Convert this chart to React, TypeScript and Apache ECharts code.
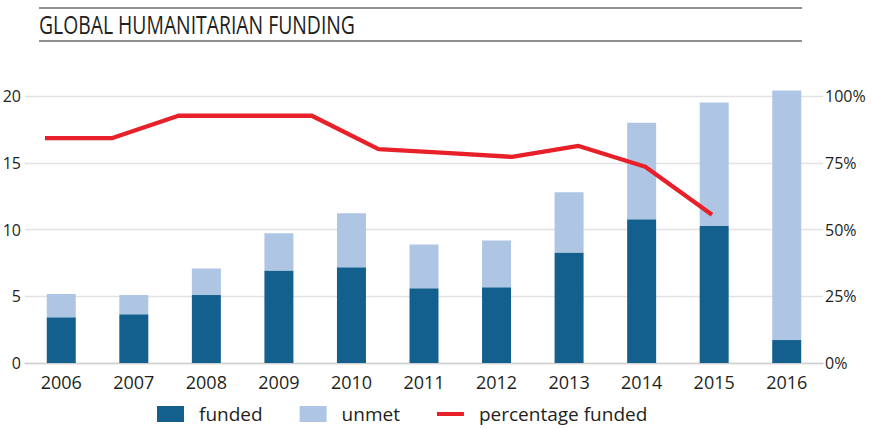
import React, { useEffect, useRef } from "react";
import * as echarts from "echarts";

const years = ["2006", "2007", "2008", "2009", "2010", "2011", "2012", "2013", "2014", "2015", "2016"];
const funded = [3.42, 3.66, 5.09, 6.93, 7.18, 5.59, 5.68, 8.28, 10.77, 10.27, 1.72];
const unmet = [1.74, 1.43, 1.99, 2.79, 4.04, 3.29, 3.5, 4.51, 7.23, 9.25, 18.7];
const pctFunded = [84.2, 84.2, 92.6, 92.6, 92.6, 80.1, 78.7, 77.2, 81.3, 73.5, 55.5];
const leftAxis = { min: 0, max: 20, interval: 5 };
const rightAxis = { min: 0, max: 100, interval: 25 };
const titleText = "GLOBAL HUMANITARIAN FUNDING";

const FONT = "'Open Sans', sans-serif";
const TEXT = "#231f20";
const DARK = "#13608f";
const LIGHT = "#aec6e4";
const RED = "#e8202a";

export default function App() {
  const ref = useRef<HTMLDivElement>(null);
  useEffect(() => {
    if (!ref.current) return;
    const chart = echarts.init(ref.current, null, { renderer: "svg" });
    chart.setOption({
      animation: false,
      backgroundColor: "#ffffff",
      textStyle: { fontFamily: FONT, color: TEXT },
      graphic: [
        { type: "line", shape: { x1: 39, y1: 8, x2: 802, y2: 8 }, style: { stroke: "#6b6b6b", lineWidth: 1.5 } },
        { type: "line", shape: { x1: 39, y1: 41, x2: 802, y2: 41 }, style: { stroke: "#6b6b6b", lineWidth: 1.5 } },
        {
          type: "text",
          x: 39,
          y: 11,
          scaleX: 0.745,
          style: { text: titleText, fontSize: 26, fontFamily: FONT, fill: TEXT, textVerticalAlign: "top" },
        },
      ],
      legend: {
        left: 152,
        top: 399,
        itemWidth: 27,
        itemHeight: 16,
        itemGap: 37,
        textStyle: { fontSize: 19, lineHeight: 20, color: TEXT, fontFamily: FONT, padding: [0, 0, 0, 10] },
        data: [
          { name: "funded", icon: "rect" },
          { name: "unmet", icon: "rect" },
          { name: "percentage funded", icon: "path://M0,0H34V5H0Z" },
        ],
      },
      grid: [
        { left: 25, right: 49, top: 96, bottom: 65, outerBoundsMode: "none" },
        { left: 45, right: 160, top: 96, bottom: 65, outerBoundsMode: "none" },
      ],
      xAxis: [
        {
          type: "category",
          gridIndex: 0,
          data: years,
          axisTick: { show: false },
          axisLine: { lineStyle: { color: "#cfcfcf", width: 1.3 } },
          axisLabel: { fontSize: 18, color: TEXT, margin: 10, fontFamily: FONT },
        },
        { type: "category", gridIndex: 1, data: years, boundaryGap: false, show: false },
      ],
      yAxis: [
        {
          type: "value",
          gridIndex: 0,
          ...leftAxis,
          axisLine: { show: false },
          axisTick: { show: false },
          axisLabel: { fontSize: 16, color: TEXT, margin: 4, fontFamily: FONT },
          splitLine: { lineStyle: { color: "#e2e2e2", width: 1.3 } },
        },
        {
          type: "value",
          gridIndex: 0,
          position: "right",
          ...rightAxis,
          axisLine: { show: false },
          axisTick: { show: false },
          axisLabel: { fontSize: 16, color: TEXT, margin: 2, formatter: "{value}%", fontFamily: FONT },
          splitLine: { show: false },
        },
        { type: "value", gridIndex: 1, ...rightAxis, show: false },
      ],
      series: [
        {
          name: "funded",
          type: "bar",
          stack: "total",
          xAxisIndex: 0,
          yAxisIndex: 0,
          barWidth: 29,
          clip: false,
          itemStyle: { color: DARK },
          data: funded,
        },
        {
          name: "unmet",
          type: "bar",
          stack: "total",
          xAxisIndex: 0,
          yAxisIndex: 0,
          barWidth: 29,
          clip: false,
          itemStyle: { color: LIGHT },
          data: unmet,
        },
        {
          name: "percentage funded",
          type: "line",
          xAxisIndex: 1,
          yAxisIndex: 2,
          symbol: "none",
          lineStyle: { color: RED, width: 4.3 },
          itemStyle: { color: RED },
          data: pctFunded,
        },
      ],
    });
    return () => chart.dispose();
  }, []);
  return <div ref={ref} style={{ width: 872, height: 428, position: "fixed", left: 0, top: 0 }} />;
}
